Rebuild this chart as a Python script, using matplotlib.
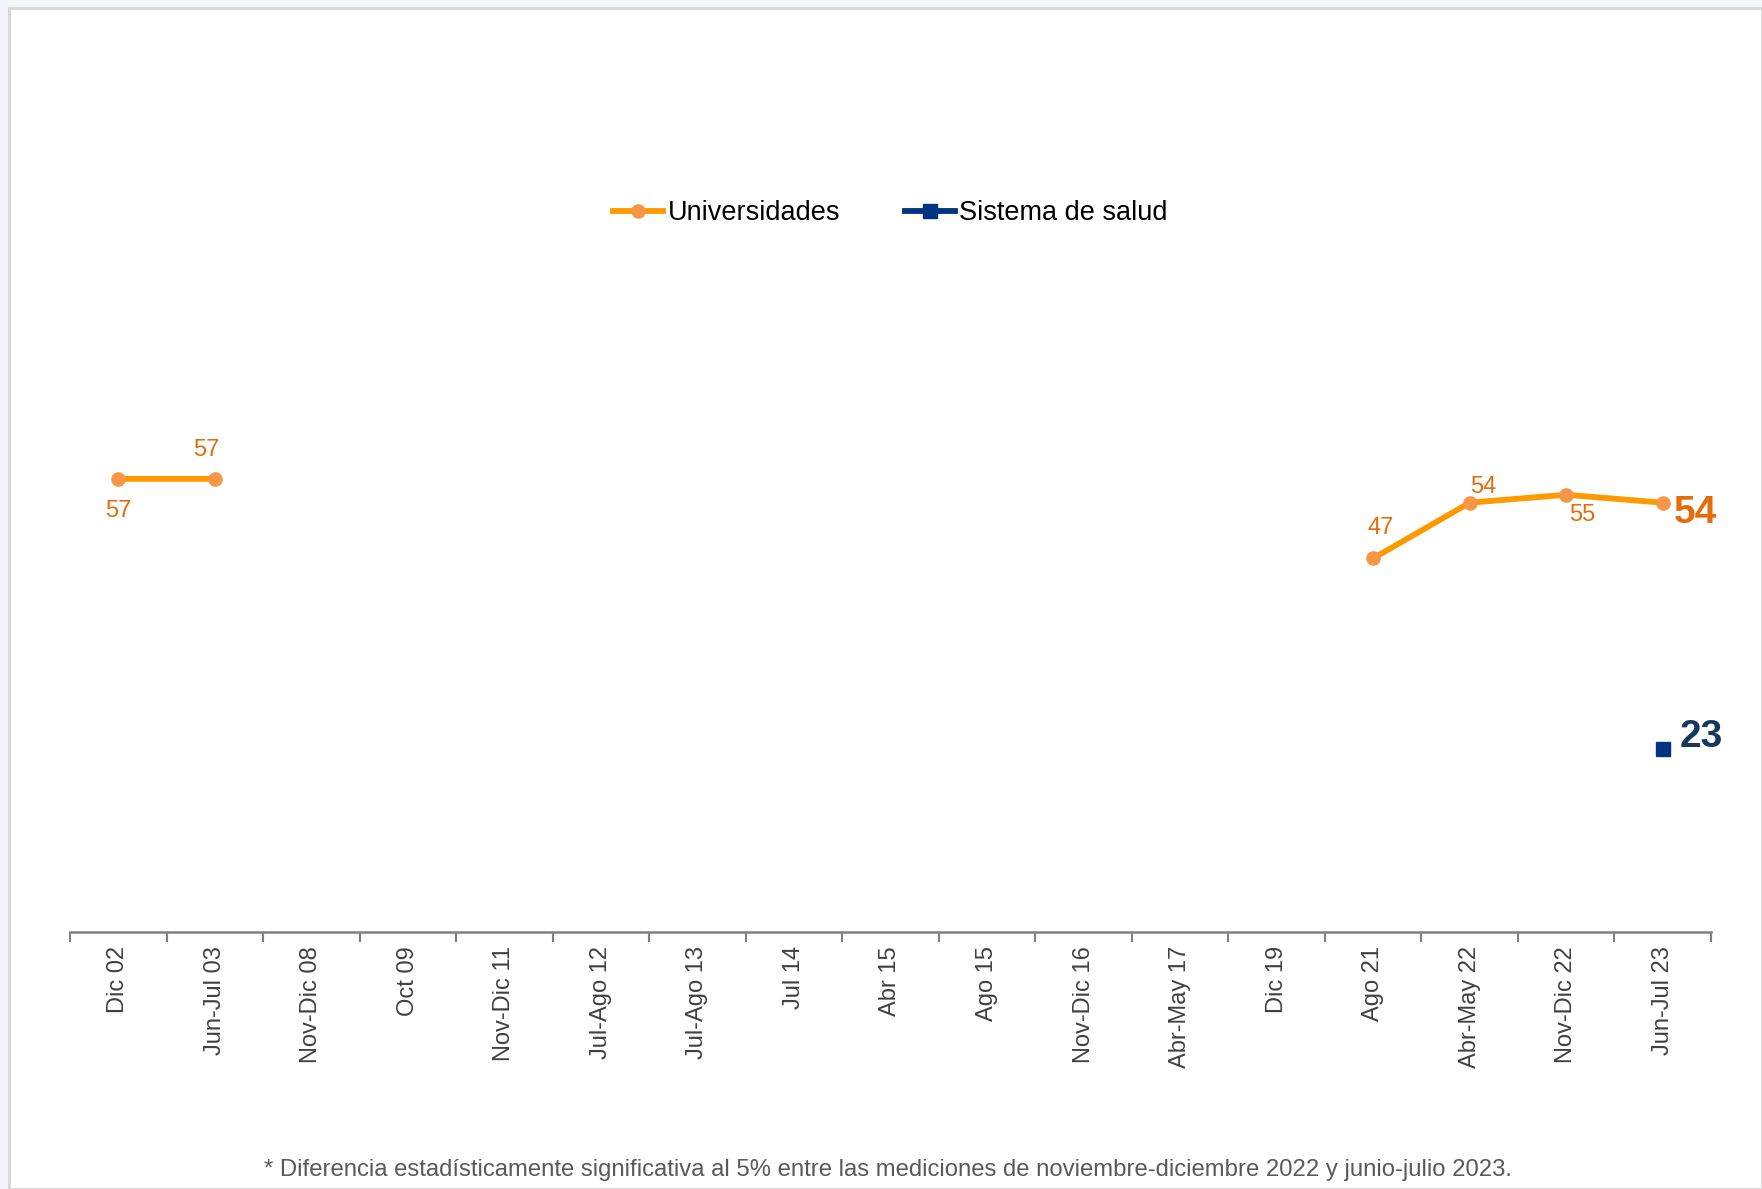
import numpy as np
import matplotlib
matplotlib.use("Agg")
from matplotlib import pyplot
from matplotlib.patches import Rectangle

pyplot.rcParams['font.family'] = ['Liberation Sans', 'DejaVu Sans']

periods = ["Dic 02", "Jun-Jul 03", "Nov-Dic 08", "Oct 09", "Nov-Dic 11", "Jul-Ago 12",
           "Jul-Ago 13", "Jul 14", "Abr 15", "Ago 15", "Nov-Dic 16", "Abr-May 17",
           "Dic 19", "Ago 21", "Abr-May 22", "Nov-Dic 22", "Jun-Jul 23"]
universidades = [57, 57, None, None, None, None, None, None, None, None, None, None,
                 None, 47, 54, 55, 54]
salud = [None] * 16 + [23]
footnote = "* Diferencia estadísticamente significativa al 5% entre las mediciones de noviembre-diciembre 2022 y junio-julio 2023."

uni = np.array([np.nan if v is None else v for v in universidades], dtype=float)
sal = np.array([np.nan if v is None else v for v in salud], dtype=float)
x = np.arange(len(periods))

fig = pyplot.figure(figsize=(17.62, 11.89), dpi=100)
fig.patch.set_facecolor('#F4F5F9')
fig.patches.append(Rectangle((9/1762, 0), 1 - 9/1762, 1 - 8/1189, transform=fig.transFigure,
                             facecolor='white', edgecolor='#D6D6D6', linewidth=2, zorder=-10))

ax = fig.add_axes([70/1762, 257/1189, 1641/1762, 795/1189])
ax.set_facecolor('none')

ax.plot(x, uni, color='#FF9900', linewidth=4.2, marker='o', markersize=9.5,
        markerfacecolor='#F79646', markeredgecolor='#F79646', label='Universidades', zorder=3)
ax.plot(x, sal, color='#003380', linewidth=4.2, marker='s', markersize=10,
        markerfacecolor='#003380', markeredgecolor='#003380', label='Sistema de salud', zorder=3)

ax.set_xlim(-0.5, len(periods) - 0.5)
ax.set_ylim(0, 100)

# data labels
lab = '#E46C0A'
offs = {0: (0, -32), 1: (-8, 29), 13: (8, 30), 14: (14, 16), 15: (16, -20)}
for i, (dx, dy) in offs.items():
    ax.annotate(str(int(uni[i])), (x[i], uni[i]), xytext=(dx, dy), textcoords='offset pixels',
                ha='center', va='center', fontsize=17, color=lab)
ax.annotate(str(int(uni[16])), (x[16], uni[16]), xytext=(11, -10), textcoords='offset pixels',
            ha='left', va='center', fontsize=28, fontweight='bold', color=lab)
ax.annotate(str(int(sal[16])), (x[16], sal[16]), xytext=(17, 12), textcoords='offset pixels',
            ha='left', va='center', fontsize=28, fontweight='bold', color='#17375E')

for s in ['top', 'right', 'left']:
    ax.spines[s].set_visible(False)
ax.spines['bottom'].set_color('#808080')
ax.spines['bottom'].set_linewidth(1.8)
ax.set_yticks([])
ax.set_xticks(x)
ax.set_xticklabels(periods, rotation=90, fontsize=17, color='#404040', va='top')
ax.tick_params(axis='x', which='major', length=0, pad=10)
ax.set_xticks(np.arange(-0.5, len(periods)), minor=True)
ax.tick_params(axis='x', which='minor', length=7, width=1.5, color='#808080')

leg = ax.legend(loc='center', bbox_to_anchor=(0.5, 1 - (213 - 137) / 795), ncol=2, frameon=False,
                fontsize=19.5, handlelength=1.85, handletextpad=0.15, columnspacing=2.4)

fig.text(888/1762, 1 - 1170/1189, footnote, ha='center', va='center', fontsize=17.2, color='#595959')

fig.savefig('out.png', dpi=100, facecolor=fig.get_facecolor())
